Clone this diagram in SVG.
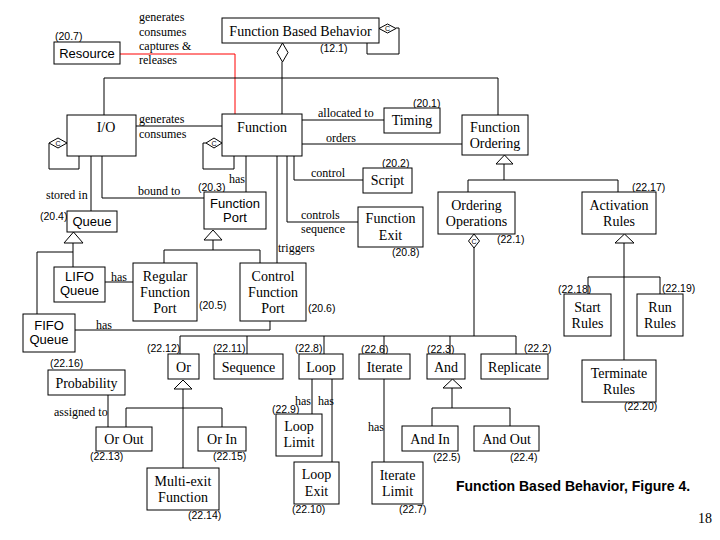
<svg xmlns="http://www.w3.org/2000/svg" width="720" height="540" viewBox="0 0 720 540">
<style>
.b{fill:#fff;stroke:#000;stroke-width:1}
.t{font-family:"Liberation Serif","Times New Roman",serif;font-size:14px;text-anchor:middle;fill:#000}
.s{font-family:"Liberation Sans",Arial,sans-serif;font-size:13px;text-anchor:middle;fill:#000}
.l{font-family:"Liberation Serif","Times New Roman",serif;font-size:12px;fill:#000}
.n{font-family:"Liberation Sans",Arial,sans-serif;font-size:10.5px;fill:#000}
.c{fill:none;stroke:#000;stroke-width:1}
.h{fill:#fff;stroke:#000;stroke-width:1}
.ct{font-family:"Liberation Sans",Arial,sans-serif;font-size:7px;text-anchor:middle;fill:#000}
</style>
<rect width="720" height="540" fill="#fff"/>
<g id="connectors">
<polyline class="c" points="120,54 235,54 235,114" style="stroke:#f00"/>
<line class="c" x1="282" y1="62" x2="282" y2="114"/>
<polyline class="c" points="104,115 104,78 498,78 498,115"/>
<polygon class="h" points="282.5,43 288,52.5 282.5,62 277,52.5"/>
<polyline class="c" points="396,28 399,28 399,54 367,54 367,43"/>
<polygon class="h" points="379,28.5 387.5,24 396,28.5 387.5,33"/>
<text class="ct" x="387.5" y="31">C</text>
<line class="c" x1="136" y1="126" x2="222" y2="126"/>
<polyline class="c" points="49,143 49,169 79,169 79,156"/>
<polygon class="h" points="49,143 58,138 67,143 58,148"/>
<text class="ct" x="58" y="145.5">C</text>
<polyline class="c" points="206,143 203,143 203,169 234,169 234,156"/>
<polygon class="h" points="206,143 214,138 222,143 214,148"/>
<text class="ct" x="214" y="145.5">C</text>
<line class="c" x1="302" y1="120" x2="384" y2="120"/>
<line class="c" x1="302" y1="144" x2="462" y2="144"/>
<line class="c" x1="504" y1="164" x2="504" y2="180"/>
<polyline class="c" points="468,192 468,180 618,180 618,192"/>
<polygon class="h" points="504.5,155 513,164 496,164"/>
<polyline class="c" points="294,156 294,180 363,180"/>
<polyline class="c" points="287,156 287,222 358,222"/>
<line class="c" x1="277" y1="156" x2="277" y2="263"/>
<line class="c" x1="246" y1="156" x2="246" y2="192"/>
<line class="c" x1="91" y1="156" x2="91" y2="211"/>
<polyline class="c" points="102,156 102,198 204,198"/>
<line class="c" x1="213" y1="240" x2="213" y2="250"/>
<polyline class="c" points="164,263 164,250 260,250 260,263"/>
<polygon class="h" points="213,230 222,240 204,240"/>
<line class="c" x1="73" y1="243" x2="73" y2="267"/>
<polyline class="c" points="73,252 37,252 37,314"/>
<polygon class="h" points="73.5,232 83,243 64,243"/>
<line class="c" x1="105" y1="282" x2="133" y2="282"/>
<polyline class="c" points="75,330 270,330 270,321"/>
<line class="c" x1="474" y1="248" x2="474" y2="336"/>
<polygon class="h" points="474,234 479.5,241 474,248 468.5,241"/>
<text class="ct" x="474" y="243.5">C</text>
<line class="c" x1="180" y1="336" x2="516" y2="336"/>
<line class="c" x1="180" y1="336" x2="180" y2="354"/>
<line class="c" x1="247" y1="336" x2="247" y2="354"/>
<line class="c" x1="324" y1="336" x2="324" y2="354"/>
<line class="c" x1="384" y1="336" x2="384" y2="354"/>
<line class="c" x1="450" y1="336" x2="450" y2="354"/>
<line class="c" x1="516" y1="336" x2="516" y2="354"/>
<line class="c" x1="624" y1="243" x2="624" y2="360"/>
<polyline class="c" points="588,294 588,277 660,277 660,294"/>
<polygon class="h" points="624.5,234 634,243 615,243"/>
<line class="c" x1="108" y1="395" x2="108" y2="427"/>
<line class="c" x1="183" y1="389" x2="183" y2="468"/>
<polyline class="c" points="126,427 126,408 222,408 222,427"/>
<polygon class="h" points="183,380 192,389 174,389"/>
<line class="c" x1="312" y1="379" x2="312" y2="414"/>
<line class="c" x1="332" y1="379" x2="332" y2="462"/>
<line class="c" x1="384" y1="379" x2="384" y2="462"/>
<line class="c" x1="452" y1="388" x2="452" y2="408"/>
<polyline class="c" points="432,426 432,408 510,408 510,426"/>
<polygon class="h" points="452.5,379 462,388 443,388"/>
</g>
<g id="labels">
<text class="l" x="139" y="21">generates</text>
<text class="l" x="139" y="36">consumes</text>
<text class="l" x="139" y="50">captures &amp;</text>
<text class="l" x="139" y="64">releases</text>
<text class="l" x="139" y="123">generates</text>
<text class="l" x="139" y="138">consumes</text>
<text class="l" x="318" y="117">allocated to</text>
<text class="l" x="326" y="142">orders</text>
<text class="l" x="311" y="177">control</text>
<text class="l" x="301" y="219">controls</text>
<text class="l" x="301" y="233">sequence</text>
<text class="l" x="278" y="252">triggers</text>
<text class="l" x="229" y="183">has</text>
<text class="l" x="138" y="195">bound to</text>
<text class="l" x="46" y="199">stored in</text>
<text class="l" x="111" y="281">has</text>
<text class="l" x="96" y="329">has</text>
<text class="l" x="54" y="416">assigned to</text>
<text class="l" x="295" y="405">has</text>
<text class="l" x="318" y="405">has</text>
<text class="l" x="368" y="431">has</text>
<text class="n" x="55" y="40">(20.7)</text>
<text class="n" x="320" y="52">(12.1)</text>
<text class="n" x="413" y="107">(20.1)</text>
<text class="n" x="382" y="167">(20.2)</text>
<text class="n" x="198" y="191">(20.3)</text>
<text class="n" x="40" y="220">(20.4)</text>
<text class="n" x="199" y="309">(20.5)</text>
<text class="n" x="308" y="312">(20.6)</text>
<text class="n" x="392" y="256">(20.8)</text>
<text class="n" x="497" y="243">(22.1)</text>
<text class="n" x="632" y="191">(22.17)</text>
<text class="n" x="558" y="293">(22.18)</text>
<text class="n" x="662" y="292">(22.19)</text>
<text class="n" x="624" y="410">(22.20)</text>
<text class="n" x="147" y="352">(22.12)</text>
<text class="n" x="213" y="352">(22.11)</text>
<text class="n" x="295" y="352">(22.8)</text>
<text class="n" x="361" y="353">(22.6)</text>
<text class="n" x="427" y="353">(22.3)</text>
<text class="n" x="524" y="352">(22.2)</text>
<text class="n" x="50" y="367">(22.16)</text>
<text class="n" x="90" y="460">(22.13)</text>
<text class="n" x="213" y="460">(22.15)</text>
<text class="n" x="188" y="519">(22.14)</text>
<text class="n" x="272" y="413">(22.9)</text>
<text class="n" x="292" y="513">(22.10)</text>
<text class="n" x="399" y="513">(22.7)</text>
<text class="n" x="433" y="461">(22.5)</text>
<text class="n" x="510" y="461">(22.4)</text>
</g>
<g id="fbb"><rect class="b" x="222" y="18" width="157" height="25"/><text class="t" x="300.5" y="36">Function Based Behavior</text></g>
<g id="resource"><rect class="b" x="54" y="42" width="66" height="22"/><text class="s" x="87" y="58">Resource</text></g>
<g id="io"><rect class="b" x="67" y="115" width="69" height="41"/><text class="t" x="106" y="132">I/O</text></g>
<g id="function"><rect class="b" x="222" y="114" width="80" height="42"/><text class="t" x="262" y="132">Function</text></g>
<g id="timing"><rect class="b" x="384" y="108" width="56" height="25"/><text class="t" x="412" y="125">Timing</text></g>
<g id="function-ordering"><rect class="b" x="462" y="115" width="66" height="40"/><text class="t" x="495" y="132">Function</text><text class="t" x="495" y="148">Ordering</text></g>
<g id="script"><rect class="b" x="363" y="168" width="49" height="25"/><text class="t" x="387.5" y="185">Script</text></g>
<g id="function-exit"><rect class="b" x="358" y="207" width="65" height="40"/><text class="t" x="390.5" y="223">Function</text><text class="t" x="390.5" y="240">Exit</text></g>
<g id="ordering-operations"><rect class="b" x="438" y="192" width="77" height="42"/><text class="t" x="476.5" y="210">Ordering</text><text class="t" x="476.5" y="226">Operations</text></g>
<g id="activation-rules"><rect class="b" x="582" y="192" width="74" height="42"/><text class="t" x="619" y="210">Activation</text><text class="t" x="619" y="226">Rules</text></g>
<g id="start-rules"><rect class="b" x="564" y="294" width="47" height="42"/><text class="t" x="587.5" y="312">Start</text><text class="t" x="587.5" y="328">Rules</text></g>
<g id="run-rules"><rect class="b" x="637" y="294" width="46" height="42"/><text class="t" x="660" y="312">Run</text><text class="t" x="660" y="328">Rules</text></g>
<g id="terminate-rules"><rect class="b" x="582" y="360" width="74" height="42"/><text class="t" x="619" y="378">Terminate</text><text class="t" x="619" y="394">Rules</text></g>
<g id="function-port"><rect class="b" x="204" y="192" width="62" height="37"/><text class="s" x="235" y="208">Function</text><text class="s" x="235" y="222">Port</text></g>
<g id="queue"><rect class="b" x="67" y="211" width="50" height="21"/><text class="s" x="92" y="226">Queue</text></g>
<g id="lifo-queue"><rect class="b" x="54" y="267" width="51" height="35"/><text class="s" x="79.5" y="281">LIFO</text><text class="s" x="79.5" y="295">Queue</text></g>
<g id="fifo-queue"><rect class="b" x="23" y="314" width="52" height="38"/><text class="s" x="49" y="330">FIFO</text><text class="s" x="49" y="344">Queue</text></g>
<g id="regular-function-port"><rect class="b" x="133" y="263" width="64" height="58"/><text class="t" x="165" y="281">Regular</text><text class="t" x="165" y="297">Function</text><text class="t" x="165" y="313">Port</text></g>
<g id="control-function-port"><rect class="b" x="240" y="263" width="66" height="58"/><text class="t" x="273" y="281">Control</text><text class="t" x="273" y="297">Function</text><text class="t" x="273" y="313">Port</text></g>
<g id="or"><rect class="b" x="168" y="354" width="31" height="25"/><text class="t" x="183.5" y="372">Or</text></g>
<g id="sequence"><rect class="b" x="214" y="354" width="69" height="25"/><text class="t" x="248.5" y="372">Sequence</text></g>
<g id="loop"><rect class="b" x="299" y="354" width="44" height="25"/><text class="t" x="321" y="372">Loop</text></g>
<g id="iterate"><rect class="b" x="359" y="354" width="51" height="25"/><text class="t" x="384.5" y="372">Iterate</text></g>
<g id="and"><rect class="b" x="427" y="354" width="38" height="25"/><text class="t" x="446" y="372">And</text></g>
<g id="replicate"><rect class="b" x="481" y="354" width="67" height="25"/><text class="t" x="514.5" y="372">Replicate</text></g>
<g id="probability"><rect class="b" x="48" y="370" width="77" height="25"/><text class="t" x="86.5" y="388">Probability</text></g>
<g id="or-out"><rect class="b" x="96" y="427" width="56" height="24"/><text class="t" x="124" y="444">Or Out</text></g>
<g id="or-in"><rect class="b" x="198" y="427" width="48" height="24"/><text class="t" x="222" y="444">Or In</text></g>
<g id="multi-exit-function"><rect class="b" x="147" y="468" width="72" height="42"/><text class="t" x="183" y="486">Multi-exit</text><text class="t" x="183" y="502">Function</text></g>
<g id="loop-limit"><rect class="b" x="276" y="414" width="46" height="42"/><text class="t" x="299" y="431">Loop</text><text class="t" x="299" y="447">Limit</text></g>
<g id="loop-exit"><rect class="b" x="294" y="462" width="45" height="42"/><text class="t" x="316.5" y="479">Loop</text><text class="t" x="316.5" y="496">Exit</text></g>
<g id="iterate-limit"><rect class="b" x="372" y="462" width="51" height="42"/><text class="t" x="397.5" y="480">Iterate</text><text class="t" x="397.5" y="496">Limit</text></g>
<g id="and-in"><rect class="b" x="402" y="426" width="56" height="25"/><text class="t" x="430" y="444">And In</text></g>
<g id="and-out"><rect class="b" x="474" y="426" width="65" height="25"/><text class="t" x="506.5" y="444">And Out</text></g>
<text x="456" y="491" style="font-family:'Liberation Sans',Arial,sans-serif;font-size:14px;font-weight:bold">Function Based Behavior, Figure 4.</text>
<text x="698" y="523" style="font-family:'Liberation Serif','Times New Roman',serif;font-size:14px">18</text>
</svg>
